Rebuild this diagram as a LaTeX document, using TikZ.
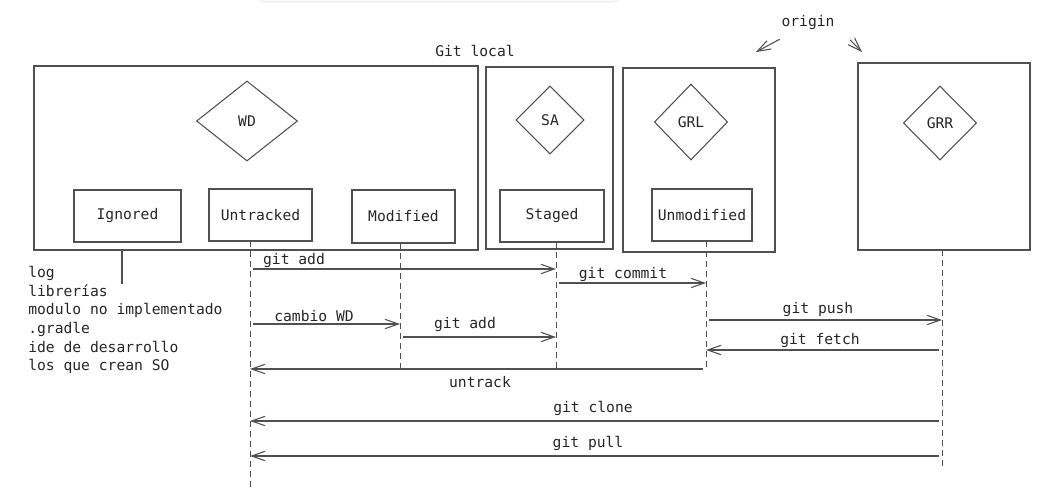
\documentclass[tikz,border=0pt]{standalone}
\usepackage{fontspec}
\setmainfont{DejaVu Sans Mono}
\usetikzlibrary{shapes.geometric,arrows.meta}
\definecolor{pen}{HTML}{505050}
\definecolor{ink}{HTML}{262626}

\begin{document}
\begin{tikzpicture}[x=0.75pt,y=0.75pt,yscale=-1,xscale=1,
  every node/.style={font=\fontsize{11}{14}\selectfont, text=ink},
  box/.style={draw=pen, line width=0.8pt, inner sep=0.75pt},
  diam/.style={draw=pen, line width=0.8pt, diamond, inner sep=0pt},
  life/.style={draw=pen, line width=0.7pt, dash pattern=on 4.5pt off 3pt},
  msg/.style={draw=pen, line width=0.8pt, shorten <=2pt, -{Straight Barb[length=10pt,width=7pt]}},
  lbl/.style={inner sep=0.75pt}]
\useasboundingbox (0,0) rectangle (1047,493);

% toolbar edge
\draw [black!10, fill=black!2, rounded corners=6pt] (257,-12) -- (257,2) -- (620,2) -- (620,-12) ;

% Containers
\draw [pen, line width=0.8pt] (34,66) rectangle (478,250) ;
\draw [pen, line width=0.8pt] (486,67) rectangle (613,249) ;
\draw [pen, line width=0.8pt] (623,68) rectangle (775,252) ;
\draw [pen, line width=0.8pt] (858,63) rectangle (1030,250) ;

% Text Node
\node [lbl] (gitlocal) at (475,51) {Git local};
% Text Node
\node [lbl] (origin) at (808,23) {origin};

% Diamonds
\node [diam, minimum width=75.75pt, minimum height=60pt] (wd) at (247,121) {WD};
\node [diam, minimum width=51pt, minimum height=51pt] (sa) at (550,120) {SA};
\node [diam, minimum width=55pt, minimum height=57pt] (grl) at (691,122) {GRL};
\node [diam, minimum width=55pt, minimum height=55.5pt] (grr) at (940,123) {GRR};

% States
\node [box, minimum width=80.25pt, minimum height=39pt] (ignored) at (127.5,216) {Ignored};
\node [box, minimum width=77.25pt, minimum height=39pt] (untracked) at (260.5,215) {Untracked};
\node [box, minimum width=77.25pt, minimum height=39.75pt] (modified) at (403.5,216.5) {Modified};
\node [box, minimum width=78pt, minimum height=39pt] (staged) at (552,216) {Staged};
\node [box, minimum width=75pt, minimum height=39pt] (unmodified) at (702,215) {Unmodified};

% Text Node
\node [lbl, anchor=north west, align=left] (ignlist) at (27,265)
  {log\\librerías\\modulo no implementado\\.gradle\\ide de desarrollo\\los que crean SO};

% origin arrows
\coordinate (oL) at (782,38);
\coordinate (oLend) at (756,52);
\coordinate (oR) at (848,38);
\coordinate (oRend) at (862,52);
\draw [msg] (oL) -- (oLend) ;
\draw [msg] (oR) -- (oRend) ;

% Lifelines
\coordinate (ignL) at (122,250);
\coordinate (untrL) at (250,241);
\coordinate (modL) at (400,243);
\coordinate (stgL) at (556,242);
\coordinate (unmL) at (706,241);
\coordinate (grrL) at (942,250);
\draw [pen, line width=0.8pt] (ignL) -- (ignL |- 0,284) ;
\draw [life] (untrL) -- (untrL |- 0,488) ;
\draw [life] (modL) -- (modL |- 0,369) ;
\draw [life] (stgL) -- (stgL |- 0,368) ;
\draw [life] (unmL) -- (unmL |- 0,367) ;
\draw [life] (grrL) -- (grrL |- 0,470) ;

% Connection
\draw [msg] (untrL |- 0,269) -- (stgL |- 0,269) ;
\node [lbl] (lbladdA) at (294,261) {git add};
% Connection
\draw [msg] (untrL |- 0,324) -- (modL |- 0,324) ;
\node [lbl] (lblcambio) at (314,316) {cambio WD};
% Connection
\draw [msg] (modL |- 0,337) -- (stgL |- 0,337) ;
\node [lbl] (lbladdB) at (465,325) {git add};
% Connection
\draw [msg] (stgL |- 0,283) -- (unmL |- 0,283) ;
\node [lbl] (lblcommit) at (623,275) {git commit};
% Connection
\draw [msg] (unmL |- 0,320) -- (grrL |- 0,320) ;
\node [lbl] (lblpush) at (818,310) {git push};
% Connection
\draw [msg] (grrL |- 0,350) -- (unmL |- 0,350) ;
\node [lbl] (lblfetch) at (820,340) {git fetch};
% Connection
\draw [msg] (unmL |- 0,369) -- (untrL |- 0,369) ;
\node [lbl] (lbluntrack) at (480,382) {untrack};
% Connection
\draw [msg] (grrL |- 0,421) -- (untrL |- 0,421) ;
\node [lbl] (lblclone) at (593,408) {git clone};
% Connection
\draw [msg] (grrL |- 0,456) -- (untrL |- 0,456) ;
\node [lbl] (lblpull) at (588,443) {git pull};

\end{tikzpicture}
\end{document}
